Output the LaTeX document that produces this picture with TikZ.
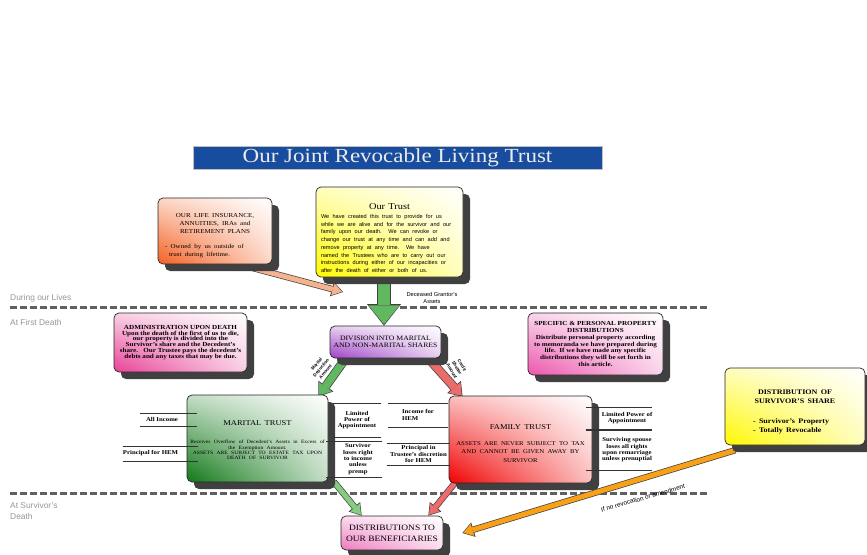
\documentclass[tikz,border=0pt]{standalone}
\usepackage{fontspec}
\setmainfont[FakeStretch=1.15]{Liberation Serif}
\setsansfont{Liberation Sans}
\newfontfamily\titlefont[FakeStretch=1.15]{Liberation Serif}
\usetikzlibrary{
  arrows.meta,
  backgrounds,
  positioning,
  shadings,
  shadows,
}
\definecolor{titleblue}{RGB}{24,76,158}
\definecolor{lifecol}{RGB}{244,96,34}
\definecolor{trustcol}{RGB}{255,250,0}
\definecolor{admincol}{RGB}{232,64,150}
\definecolor{divcol}{RGB}{158,64,196}
\definecolor{speccol}{RGB}{236,84,172}
\definecolor{maritalcol}{RGB}{16,120,24}
\definecolor{familycol}{RGB}{240,0,0}
\definecolor{survcol}{RGB}{255,248,0}
\definecolor{distcol}{RGB}{238,120,190}
\definecolor{shadowgray}{RGB}{64,64,64}
\definecolor{dashgray}{RGB}{96,96,96}
\definecolor{phasegray}{RGB}{150,150,150}
\definecolor{greenarrow}{RGB}{98,184,96}
\definecolor{lightgreen}{RGB}{136,204,130}
\definecolor{redarrow}{RGB}{236,108,108}
\definecolor{peach}{RGB}{244,178,142}
\definecolor{orangearrow}{RGB}{248,160,24}
\newcommand{\fsz}[2]{\fontsize{#1}{#2}\selectfont}
\newcommand{\topstrut}[1]{\rule{0pt}{#1}}
\tikzset{
  trustbox/.style={draw=black!85, line width=0.7pt, rounded corners=5pt, inner sep=2pt,
    drop shadow={shadow xshift=7pt, shadow yshift=-7pt, fill=shadowgray, opacity=1}},
  shadefrom/.style={lower left=#1, upper left=#1!25, lower right=#1!25, upper right=white},
  titlebar/.style={fill=titleblue, draw=gray!50, line width=0.5pt, text=white!92!black,
    font=\titlefont\fsz{20}{20}, inner sep=0pt},
  phase/.style={font=\sffamily\fsz{8.4}{10}, text=phasegray, inner sep=0pt, align=left},
  phaseline/.style={draw=dashgray, line width=3pt, dash pattern=on 6.5pt off 3.5pt},
  flowlabel/.style={font=\sffamily\fsz{5.7}{7}, inner sep=0pt, align=center},
  tinylabel/.style={font=\sffamily\bfseries\fsz{4.5}{5.8}, inner sep=0pt, align=center},
  sidelabel/.style={font=\bfseries\fsz{5.9}{6.3}, inner sep=0pt, align=center},
  sideline/.style={draw=black!80, line width=0.6pt},
  bigarrow/.style={draw=#1, line width=12pt, -{Triangle[length=19pt,width=31pt,line width=0pt]},
    shorten >=1.3pt,
    preaction={draw=black!75, line width=13.6pt, -{Triangle[length=21.5pt,width=34pt,line width=0pt]},
      shorten >=0pt, shorten <=-0.8pt}},
  midarrow/.style={draw=#1, line width=7.5pt, -{Triangle[length=11pt,width=16pt,line width=0pt]},
    shorten >=1.2pt,
    preaction={draw=black!75, line width=9pt, -{Triangle[length=13pt,width=18.5pt,line width=0pt]},
      shorten >=0pt, shorten <=-0.8pt}},
  slimarrow/.style={draw=#1, line width=5pt, -{Triangle[length=9.5pt,width=12.5pt,line width=0pt]},
    shorten >=1.1pt,
    preaction={draw=black!75, line width=6.4pt, -{Triangle[length=11.5pt,width=15pt,line width=0pt]},
      shorten >=0pt, shorten <=-0.7pt}},
}

\begin{document}
\begin{tikzpicture}[x=1pt, y=-1pt]
\useasboundingbox (0,0) rectangle (867,554);

\node[titlebar, minimum width=409, minimum height=23] (title) at (397.5,157.5) {Our Joint Revocable Living Trust};

% boxes
\node[trustbox, shadefrom=lifecol, minimum width=114, minimum height=66, text width=106] (life) at (215,231)
  {{\centering\fsz{6.1}{8}\topstrut{13pt}OUR LIFE INSURANCE,\\ ANNUITIES, IRAs and\\ RETIREMENT PLANS\par}\vspace{7pt}%
   {\fsz{6.1}{8}\hspace*{3pt}- Owned by us outside of\\ \hspace*{7pt}trust during lifetime.\par}};
\node[trustbox, shadefrom=trustcol, minimum width=147, minimum height=90, inner ysep=0pt, inner xsep=1pt,
  text width=137] (trust) at (389.5,232)
  {{\centering\fsz{9}{10}\topstrut{18pt}Our Trust\par}\vspace{1.3pt}%
   {\sffamily\fsz{5.6}{7.7}\tolerance=9999\hyphenpenalty=10000 We have created this trust to provide for us\linebreak
    while we are alive and for the survivor and our\linebreak
    family upon our death.\ \ We can revoke or\linebreak
    change our trust at any time and can add and\linebreak
    remove property at any time.\ \ We have\linebreak
    named the Trustees who are to carry out our\linebreak
    instructions during either of our incapacities or\linebreak
    after the death of either or both of us.\par}};
\node[trustbox, shadefrom=admincol, minimum width=133, minimum height=59, align=center,
  font=\bfseries\fsz{6.2}{5.9}] (admin) at (180.5,342.5)
  {ADMINISTRATION UPON DEATH\\ Upon the death of the first of us to die,\\ our property is divided into the\\
   Survivor's share and the Decedent's\\ share.\ \ \ Our Trustee pays the decedent's\\ debts and any taxes that may be due.};
\node[trustbox, shadefrom=divcol, minimum width=111, minimum height=32, align=center,
  font=\fsz{6.7}{7.4}] (division) at (385.5,342) {DIVISION INTO MARITAL\\ AND NON-MARITAL SHARES};
\node[trustbox, shadefrom=speccol, minimum width=135, minimum height=62, align=center,
  font=\bfseries\fsz{6.2}{6.7}] (specific) at (595.5,344)
  {SPECIFIC \& PERSONAL PROPERTY\\ DISTRIBUTIONS\\ Distribute personal property according\\
   to memoranda we have prepared during\\ life.\ \ If we have made any specific\\
   distributions they will be set forth in\\ this article.};
\node[trustbox, shadefrom=maritalcol, minimum width=141, minimum height=87, inner xsep=1pt, text width=139] (marital) at (257.5,438.5)
  {{\centering\fsz{7.4}{9}\topstrut{8.5pt}MARITAL TRUST\par}\vspace{13pt}%
   {\centering\fsz{4.9}{5.3}Receives Overflow of Decedent’s Assets in Excess of\\ the Exemption Amount.\\
    ASSETS ARE SUBJECT TO ESTATE TAX UPON\\ DEATH OF SURVIVOR\par}};
\node[trustbox, shadefrom=familycol, minimum width=143, minimum height=87, text width=138] (family) at (520.5,439.5)
  {{\centering\fsz{7.4}{9}\topstrut{13pt}FAMILY TRUST\par}\vspace{7pt}%
   {\centering\fsz{5.9}{8.6}ASSETS ARE NEVER SUBJECT TO TAX\\ AND CANNOT BE GIVEN AWAY BY\\ SURVIVOR\par}};
\node[trustbox, shadefrom=survcol, minimum width=140, minimum height=77, text width=84] (survivor) at (795,406.5)
  {{\centering\bfseries\fsz{7}{9.8}\topstrut{14.7pt}DISTRIBUTION OF\\ SURVIVOR'S SHARE\par}\vspace{10pt}%
   {\bfseries\fsz{7}{9.2}- Survivor's Property\\ - Totally Revocable\par}};
\node[trustbox, shadefrom=distcol, minimum width=102, minimum height=34, align=center,
  font=\fsz{8.2}{11}] (distrib) at (392,533) {DISTRIBUTIONS TO\\ OUR BENEFICIARIES};

\coordinate (lifetip) at (343,292);

% stages and flows behind the boxes
\begin{scope}[on background layer]
  \draw[phaseline] (10,307) -- (707,307);
  \draw[phaseline] (10,493) -- (707,493);
  \draw[bigarrow=greenarrow] ([xshift=-5.5pt]trust.south) -- ([xshift=-1.5pt]division.north);
  \draw[slimarrow=peach] ([xshift=-22pt,yshift=-3pt]life.south east) -- (lifetip);
  \draw[midarrow=greenarrow] ([xshift=16pt]division.south west) -- ([xshift=-10pt,yshift=-2pt]marital.north east);
  \draw[midarrow=redarrow] ([xshift=-13pt]division.south east) -- ([xshift=14pt,yshift=-1pt]family.north west);
  \draw[slimarrow=lightgreen] ([xshift=6pt]marital.south east) -- ([xshift=21pt]distrib.north west);
  \draw[slimarrow=redarrow] ([xshift=6pt]family.south west) -- ([xshift=-15pt]distrib.north east);
  \draw[slimarrow=orangearrow] ([xshift=10pt,yshift=-5pt]survivor.south west) -- ([xshift=19pt]distrib.east);
\end{scope}

\node[phase, anchor=base west] (lives) at (10,300) {During our Lives};
\node[phase, anchor=base west] (firstdeath) at (10,325) {At First Death};
\node[phase, anchor=north west, font=\sffamily\fsz{8.4}{11.5}] (survdeath) at (10,502) {At Survivor's\\Death};

\node[flowlabel] (assets) at (432,298) {Deceased Grantor's\\Assets};
\node[tinylabel, rotate=50] (mdlabel) at (321,368) {Marital\\Deduction\\Amount};
\node[tinylabel, rotate=-60] (cslabel) at (457,368) {Credit\\Shelter\\Amount};
\node[flowlabel, font=\sffamily\fsz{6.4}{7}, rotate=16] (revlabel) at (643,498) {If no revocation or amendment};

% side notes of the two trusts
\node[sidelabel, minimum width=44, minimum height=13] (allinc) at (162,419.5) {All Income};
\node[sidelabel, minimum width=53, minimum height=15] (prinhem) at (150.5,453.5) {Principal for HEM};
\node[sidelabel, minimum width=47, minimum height=34] (mlpa) at (357,420) {Limited\\Power of\\Appointment};
\node[sidelabel, minimum width=48, minimum height=36] (msurv) at (358,459) {Survivor\\loses right\\to income\\unless\\premp};
\node[sidelabel, minimum width=60, minimum height=24, align=left] (finc) at (418,415) {Income for\\HEM};
\node[sidelabel, minimum width=63, minimum height=22] (fprin) at (418.5,454) {Principal in\\Trustee's discretion\\for HEM};
\node[sidelabel, minimum width=46, minimum height=22] (flpa) at (627,418) {Limited Power of\\Appointment};
\node[sidelabel, minimum width=48, minimum height=40] (fsurv) at (627,450) {Surviving spouse\\loses all rights\\upon remarriage\\unless prenuptial};
\foreach \n/\l/\r in {allinc/0/13, prinhem/0/20, mlpa/0/0, msurv/8/0, finc/0/0, fprin/0/0, flpa/16/0, fsurv/16/0}
  \draw[sideline] ([xshift=-\l pt]\n.north west) -- ([xshift=\r pt]\n.north east)
                  ([xshift=-\l pt]\n.south west) -- ([xshift=\r pt]\n.south east);
\end{tikzpicture}
\end{document}
